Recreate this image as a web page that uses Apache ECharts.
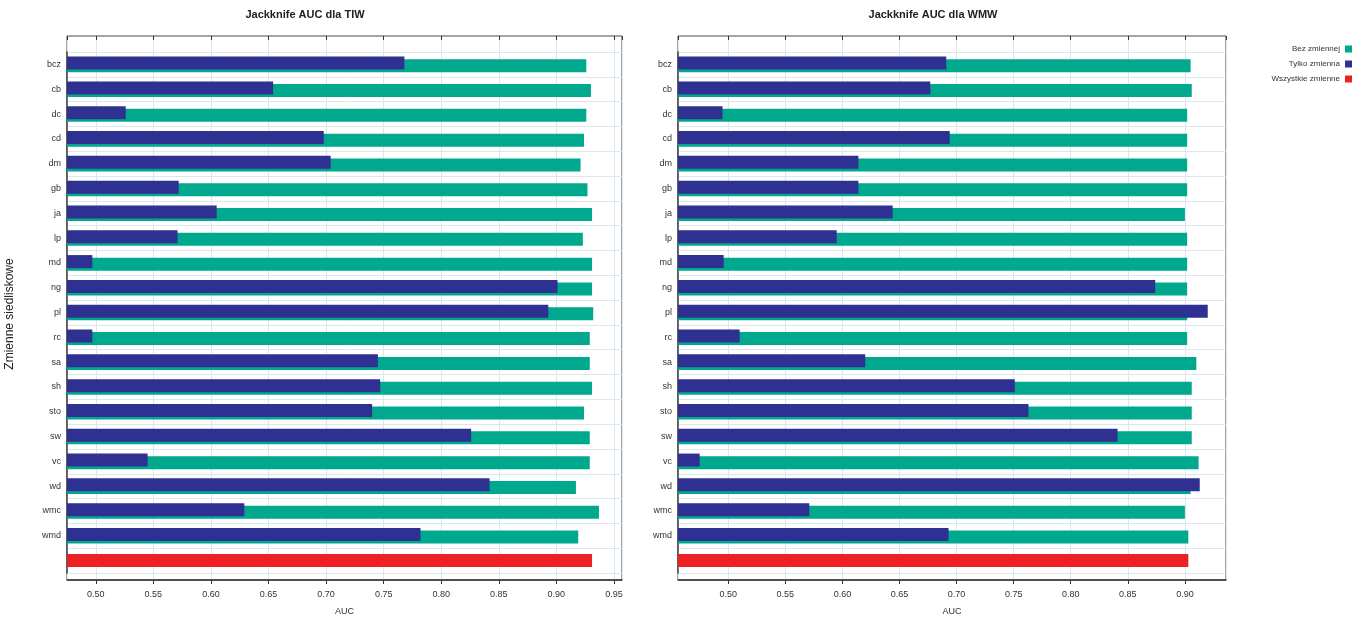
<!DOCTYPE html>
<html><head><meta charset="utf-8">
<script src="https://cdn.jsdelivr.net/npm/echarts@6/dist/echarts.min.js"></script>
<style>html,body{margin:0;padding:0;background:#fff}#c{width:1365px;height:628px}</style>
</head><body><div id="c"></div>
<script>
const categories = ["bcz","cb","dc","cd","dm","gb","ja","lp","md","ng","pl","rc","sa","sh","sto","sw","vc","wd","wmc","wmd",""];
const tiwOnly    = [0.768,0.654,0.526,0.698,0.704,0.572,0.605,0.571,0.497,0.901,0.893,0.497,0.745,0.747,0.740,0.826,0.545,0.842,0.629,0.782,null];
const tiwWithout = [0.926,0.930,0.926,0.924,0.921,0.927,0.931,0.923,0.931,0.931,0.932,0.929,0.929,0.931,0.924,0.929,0.929,0.917,0.937,0.919,null];
const tiwAll = 0.931;
const wmwOnly    = [0.691,0.677,0.495,0.694,0.614,0.614,0.644,0.595,0.496,0.874,0.920,0.510,0.620,0.751,0.763,0.841,0.475,0.913,0.571,0.693,null];
const wmwWithout = [0.905,0.906,0.902,0.902,0.902,0.902,0.900,0.902,0.902,0.902,0.902,0.902,0.910,0.906,0.906,0.906,0.912,0.905,0.900,0.903,null];
const wmwAll = 0.903;
const titles = ["Jackknife AUC dla TIW","Jackknife AUC dla WMW"];
const legendNames = ["Bez zmiennej","Tylko zmienna","Wszystkie zmienne"];

const NAVY='#2e3192', TEAL='#00a88e', RED='#ed2024';
const FONT='"Liberation Sans", Arial, sans-serif';
const allArr = (v)=>categories.map((c,i)=> i===categories.length-1 ? v : null);

function panel(k, leftPx, rightPx, min, max){
  const fg = k*2, dg = k*2+1;
  const grids = [
    {left:leftPx, right:rightPx, top:36, bottom:48, show:true, borderColor:'#4a4a4a', borderWidth:1, backgroundColor:'transparent'},
    {left:leftPx, right:rightPx, top:52, bottom:55}
  ];
  const xAxes = [
    {type:'value', gridIndex:fg, position:'bottom', min:min, max:max, splitNumber:10,
     name:'AUC', nameLocation:'middle', nameGap:27, nameTextStyle:{fontSize:9, color:'#333', fontFamily:FONT},
     axisLine:{show:true, lineStyle:{color:'#333', width:1.5}},
     axisTick:{show:true, inside:false, length:4, lineStyle:{color:'#333'}},
     axisLabel:{fontSize:9, color:'#333', fontFamily:FONT, margin:10, showMinLabel:false, showMaxLabel:false,
       formatter:(v)=>v.toFixed(2)},
     splitLine:{show:true, lineStyle:{color:'#dce6ef', width:1}}},
    {type:'value', gridIndex:fg, position:'top', min:min, max:max, splitNumber:10,
     axisLine:{show:false}, axisTick:{show:true, inside:true, length:4, lineStyle:{color:'#333'}},
     axisLabel:{show:false}, splitLine:{show:false}},
    {type:'value', gridIndex:dg, min:min, max:max, show:false, splitLine:{show:false}}
  ];
  const yAxes = [
    {type:'value', gridIndex:fg, show:false, splitLine:{show:false}},
    {type:'category', gridIndex:dg, data:categories, inverse:true,
     axisLine:{show:true, lineStyle:{color:'#444', width:1.5}}, axisTick:{show:false},
     axisLabel:{fontSize:9, color:'#333', fontFamily:FONT, margin:6},
     splitLine:{show:true, lineStyle:{color:'#dce6ef', width:1}}}
  ];
  return {grids, xAxes, yAxes};
}

const P0 = panel(0, 67, 1365-622, 0.475, 0.957);
const P1 = panel(1, 678, 1365-1226, 0.456, 0.936);

function series(xIdx, yIdx, only, without, all){
  const common = {type:'bar', xAxisIndex:xIdx, yAxisIndex:yIdx, barWidth:13, barGap:'-90%', animation:false};
  return [
    Object.assign({}, common, {name:legendNames[1], data:only, itemStyle:{color:NAVY}, z:4}),
    Object.assign({}, common, {name:legendNames[2], data:allArr(all), itemStyle:{color:RED}, z:3}),
    Object.assign({}, common, {name:legendNames[0], data:without, itemStyle:{color:TEAL}, z:2})
  ];
}

const option = {
  animation:false,
  textStyle:{fontFamily:FONT},
  title:[
    {text:titles[0], left:300, top:4, textAlign:'center', textStyle:{fontSize:11, fontWeight:'bold', color:'#222', fontFamily:FONT}},
    {text:titles[1], left:928, top:4, textAlign:'center', textStyle:{fontSize:11, fontWeight:'bold', color:'#222', fontFamily:FONT}}
  ],
  legend:{data:legendNames, orient:'vertical', right:8, top:40, align:'right', itemWidth:7, itemHeight:7, itemGap:7,
    icon:'rect', textStyle:{fontSize:8, color:'#333', fontFamily:FONT}},
  graphic:[{type:'text', left:4, top:'middle', rotation:Math.PI/2,
    style:{text:'Zmienne siedliskowe', fontSize:12, fill:'#222', font:'12px '+FONT}}],
  grid:[...P0.grids, ...P1.grids],
  xAxis:[...P0.xAxes, ...P1.xAxes],
  yAxis:[...P0.yAxes, ...P1.yAxes],
  series:[...series(2,1,tiwOnly,tiwWithout,tiwAll), ...series(5,3,wmwOnly,wmwWithout,wmwAll)]
};
const chart = echarts.init(document.getElementById('c'), null, {renderer:'canvas'});
chart.setOption(option);
</script></body></html>
